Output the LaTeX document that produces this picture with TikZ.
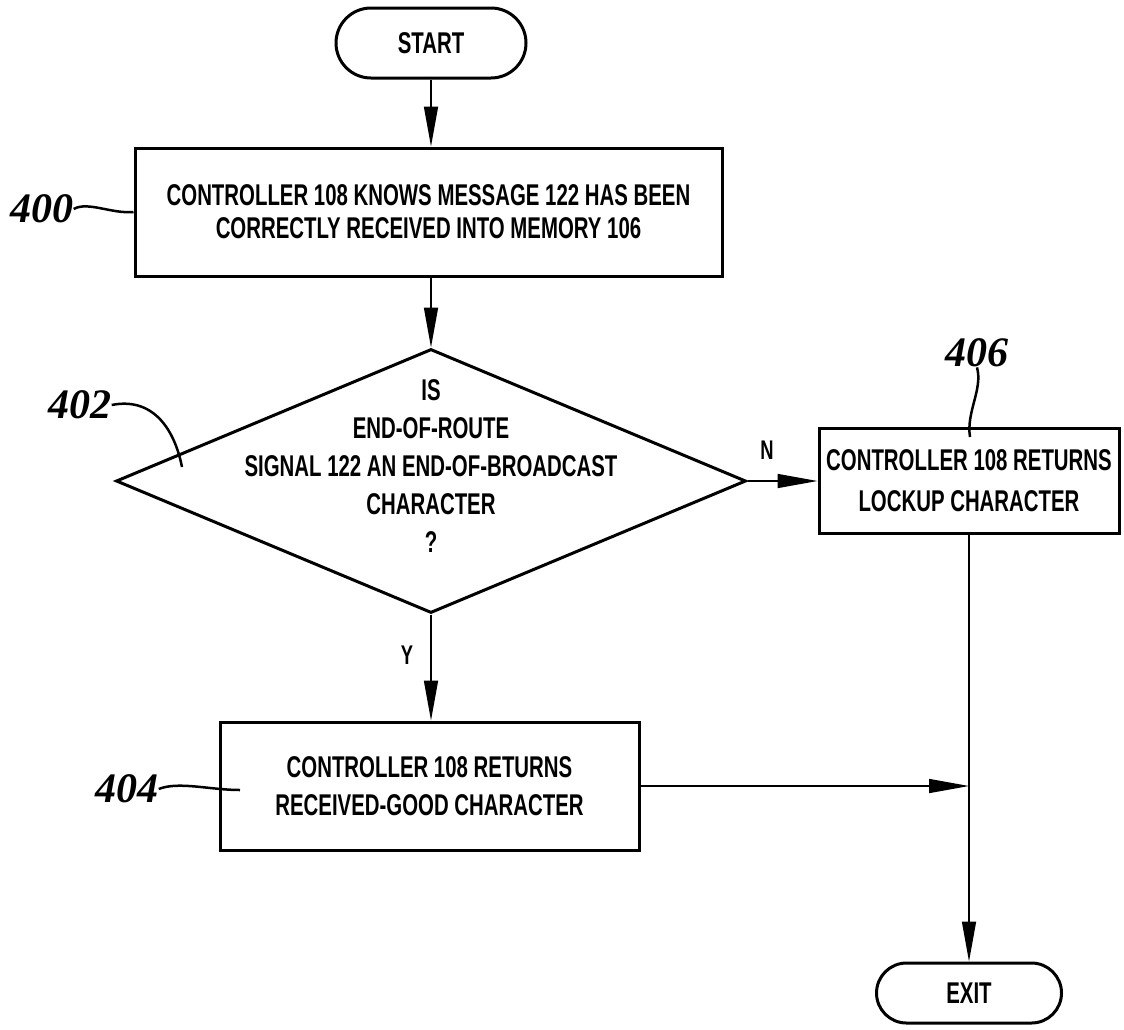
\documentclass[tikz,border=0pt]{standalone}
\usepackage{fontspec}
\setmainfont{Liberation Sans}
\newfontfamily\condb{Liberation Sans}[UprightFont={* Bold},FakeStretch=0.68]
\newfontfamily\numf{Liberation Serif}[UprightFont={* Bold Italic}]
\usetikzlibrary{arrows.meta,shapes.geometric,shapes.misc}
\begin{document}
\begin{tikzpicture}[x=1pt,y=-1pt,
 box/.style={draw,line width=3pt,inner sep=0pt,align=center,font=\condb\fontsize{30}{35}\selectfont},
 term/.style={draw,line width=3pt,rounded rectangle,inner sep=0pt,font=\condb\fontsize{30}{35}\selectfont},
 flow/.style={line width=1.6pt,-{Triangle[length=40pt,width=14pt]}},
 lead/.style={line width=2.5pt},
 refnum/.style={font=\numf\fontsize{42}{42}\selectfont,inner sep=0pt},
 yn/.style={font=\condb\fontsize{27}{30}\selectfont,inner sep=0pt}]
\useasboundingbox (0,0) rectangle (1124,1029);

\node[term,minimum width=190pt,minimum height=70pt] (start) at (431,43) {START};
\node[box,minimum width=587pt,minimum height=128pt] (b400) at (428.5,212)
  {CONTROLLER 108 KNOWS MESSAGE 122 HAS BEEN\\[-2pt]CORRECTLY RECEIVED INTO MEMORY 106};
\node[draw,line width=3pt,diamond,inner sep=0pt,minimum width=630pt,minimum height=264pt] (d402) at (431,481) {};
\node[align=center,inner sep=0pt,font=\condb\fontsize{30}{38}\selectfont] (d402t) at (431,466)
  {IS\\END-OF-ROUTE\\SIGNAL 122 AN END-OF-BROADCAST\\CHARACTER\\?};
\node[box,minimum width=300pt,minimum height=105pt] (b406) at (969,480.5)
  {CONTROLLER 108 RETURNS\\[6pt]LOCKUP CHARACTER};
\node[box,minimum width=419pt,minimum height=128pt] (b404) at (429.5,786)
  {CONTROLLER 108 RETURNS\\[3pt]RECEIVED-GOOD CHARACTER};
\node[term,minimum width=185pt,minimum height=60pt] (exit) at (969,993) {EXIT};
\coordinate (join) at (969,786);

\draw[flow] (start.south) -- (start.south |- b400.north);
\draw[flow] (d402.north |- b400.south) -- (d402.north);
\draw[flow] (d402.south) -- (d402.south |- b404.north);
\draw[flow] (d402.east) -- (d402.east -| b406.west);
\draw[flow] (b406.south) -- (exit.north);
\draw[flow] (b404.east) -- (join);

\node[yn] (ylab) at (407,655) {Y};
\node[yn] (nlab) at (767,450) {N};

\node[refnum] (r400) at (42,209) {400};
\node[refnum] (r402) at (80,405) {402};
\node[refnum] (r406) at (977,353) {406};
\node[refnum] (r404) at (127,789) {404};
\coordinate (t402) at (182,467);
\coordinate (t406) at (970,437);
\coordinate (t404) at (240,790);

\draw[lead] (r400.east) .. controls +(14,-8) and +(-22,2) .. (b400.west);
\draw[lead] (r402.east) .. controls +(40,-8) and +(-8,-40) .. (t402);
\draw[lead] (r406.south) .. controls +(6,22) and +(-4,-25) .. (t406);
\draw[lead] (r404.east) .. controls +(20,-8) and +(-30,0) .. (t404);
\end{tikzpicture}
\end{document}
